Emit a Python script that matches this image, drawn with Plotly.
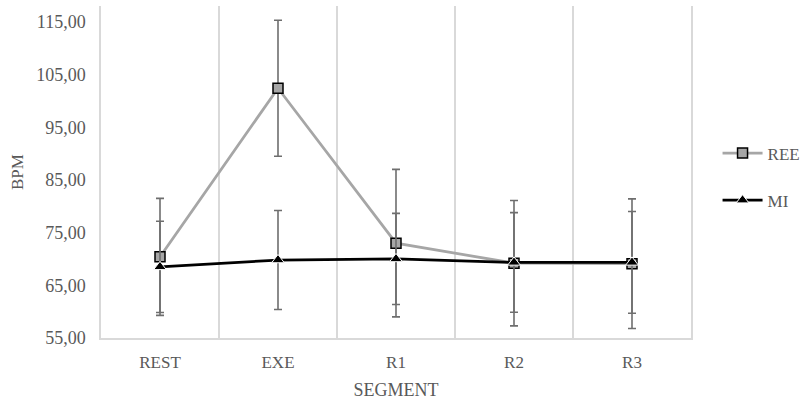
import plotly.graph_objects as go

segments = ["REST", "EXE", "R1", "R2", "R3"]
ree_mean = [70.4, 102.4, 73.0, 69.2, 69.1]
ree_sd = [11.1, 12.9, 14.0, 11.9, 12.3]
mi_mean = [68.5, 69.8, 70.0, 69.35, 69.35]
mi_sd = [8.65, 9.4, 8.65, 9.45, 9.65]
y_ticks = [55, 65, 75, 85, 95, 105, 115]

FONT = "Liberation Serif"
TXT = "#595959"
GRID = "#d9d9d9"
ERR = "#6e6e6e"

fig = go.Figure()
fig.add_trace(go.Scatter(
    x=segments, y=ree_mean, name="REE", mode="lines+markers",
    line=dict(color="#a6a6a6", width=2.75),
    marker=dict(symbol="square", size=10, color="#a6a6a6", line=dict(color="black", width=1.5)),
    error_y=dict(type="data", array=ree_sd, color=ERR, thickness=1.6, width=4),
    legendgroup="a",
))
fig.add_trace(go.Scatter(
    x=segments, y=mi_mean, name="MI", mode="lines+markers",
    line=dict(color="black", width=2.75),
    marker=dict(symbol="triangle-up", size=11, color="black", line=dict(color="white", width=1)),
    error_y=dict(type="data", array=mi_sd, color=ERR, thickness=1.6, width=4),
    legendgroup="b",
))

fig.update_layout(
    width=805, height=403,
    margin=dict(l=101, r=114, t=6, b=65, autoexpand=False),
    paper_bgcolor="white", plot_bgcolor="white",
    font=dict(family=FONT, color=TXT, size=17),
    separators=",.",
    showlegend=True,
    legend=dict(x=1.045, y=0.485, xanchor="left", yanchor="middle",
                font=dict(size=17, color=TXT), tracegroupgap=22,
                traceorder="grouped", itemwidth=40),
    xaxis=dict(
        type="category", range=[-0.5, 4.5], tickson="boundaries",
        showgrid=True, gridcolor=GRID, gridwidth=1.5,
        showline=True, linecolor=GRID, linewidth=2,
        ticks="", tickfont=dict(size=17, color=TXT), ticklabelstandoff=8,
        title=dict(text="SEGMENT", font=dict(size=18, color=TXT), standoff=12),
        automargin=False,
    ),
    yaxis=dict(
        range=[55, 118], tickvals=y_ticks, tickformat=".2f",
        showgrid=False, zeroline=False,
        showline=True, mirror=True, linecolor=GRID, linewidth=1.5,
        ticks="", tickfont=dict(size=18, color=TXT), ticklabelstandoff=10,
        title=dict(text="BPM", font=dict(size=17, color=TXT), standoff=8),
        automargin=False,
    ),
)

fig.write_html("out.html")
